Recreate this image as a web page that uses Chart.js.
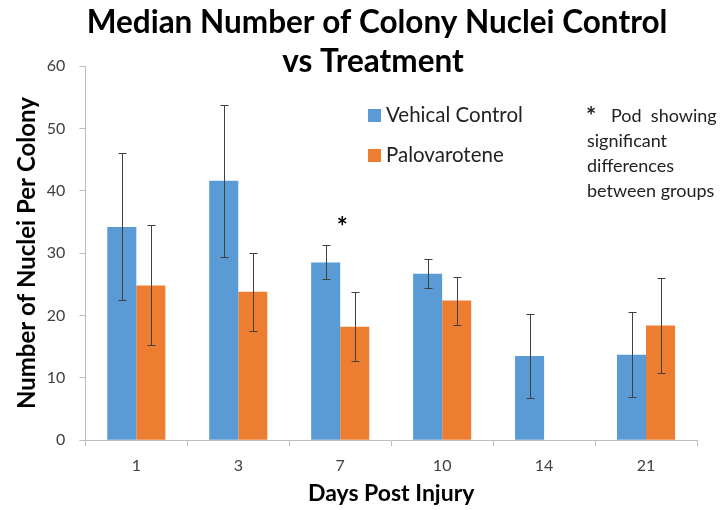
<!DOCTYPE html>
<html>
<head>
<meta charset="utf-8">
<script src="https://cdn.jsdelivr.net/npm/chart.js@4.4.0/dist/chart.umd.min.js"></script>
<style>
  html, body { margin: 0; padding: 0; background: #fff; }
  #wrap { width: 722px; height: 510px; }
</style>
</head>
<body>
<div id="wrap"><canvas id="chart" width="722" height="510"></canvas></div>
<script>
const days = ['1', '3', '7', '10', '14', '21'];
const controlMedian = [34.2, 41.6, 28.5, 26.7, 13.5, 13.7];
const controlLow = [22.5, 29.4, 25.9, 24.4, 6.8, 7.0];
const controlHigh = [46.1, 53.7, 31.3, 29.0, 20.3, 20.6];
const paloMedian = [24.8, 23.8, 18.2, 22.4, null, 18.4];
const paloLow = [15.3, 17.5, 12.7, 18.5, null, 10.7];
const paloHigh = [34.5, 30.0, 23.7, 26.2, null, 26.0];
const yTicks = [0, 10, 20, 30, 40, 50, 60];
const significantDay = '7';
const significantLevel = 35;

const font = 'Lato, "Open Sans", sans-serif';

const errorBars = {
  id: 'errorBars',
  afterDatasetsDraw(chart) {
    const ctx = chart.ctx;
    const y = chart.scales.y;
    const ranges = [[controlLow, controlHigh], [paloLow, paloHigh]];
    ctx.save();
    ctx.strokeStyle = '#404040';
    ctx.lineWidth = 1;
    ranges.forEach(([lo, hi], i) => {
      chart.getDatasetMeta(i).data.forEach((bar, j) => {
        if (lo[j] == null) return;
        const x = Math.round(bar.x) + 0.5;
        const y1 = Math.round(y.getPixelForValue(lo[j])) + 0.5;
        const y2 = Math.round(y.getPixelForValue(hi[j])) + 0.5;
        ctx.beginPath();
        ctx.moveTo(x, y1); ctx.lineTo(x, y2);
        ctx.moveTo(x - 4, y1); ctx.lineTo(x + 4, y1);
        ctx.moveTo(x - 4, y2); ctx.lineTo(x + 4, y2);
        ctx.stroke();
      });
    });
    // significance star
    const xs = chart.scales.x;
    ctx.fillStyle = '#000';
    ctx.font = 'bold 26px ' + font;
    ctx.textAlign = 'center';
    ctx.textBaseline = 'middle';
    ctx.fillText('*', xs.getPixelForValue(days.indexOf(significantDay)) + 2, y.getPixelForValue(significantLevel) + 6);
    ctx.restore();
  },
  afterDraw(chart) {
    const ctx = chart.ctx;
    ctx.save();
    // title
    ctx.fillStyle = '#000';
    ctx.textAlign = 'center';
    ctx.textBaseline = 'middle';
    ctx.font = 'bold 31.5px ' + font;
    ctx.fillText('Median Number of Colony Nuclei Control', 377, 23);
    ctx.fillText('vs Treatment', 373, 62);
    // legend
    ctx.textAlign = 'left';
    ctx.font = '20.5px ' + font;
    chart.data.datasets.forEach((ds, i) => {
      const ly = 115.5 + i * 40;
      ctx.fillStyle = ds.backgroundColor;
      ctx.fillRect(368, ly - 6.5, 13, 13);
      ctx.fillStyle = '#222';
      ctx.fillText(ds.label, 386, ly);
    });
    // note
    ctx.fillStyle = '#222';
    ctx.font = 'bold 24px ' + font;
    ctx.fillText('*', 586, 117);
    ctx.font = '18px ' + font;
    ctx.fillText('Pod  showing', 611, 116);
    ctx.fillText('significant', 587, 141);
    ctx.fillText('differences', 587, 166);
    ctx.fillText('between groups', 587, 191);
    ctx.restore();
  }
};

new Chart(document.getElementById('chart'), {
  type: 'bar',
  data: {
    labels: days,
    datasets: [
      { label: 'Vehical Control', data: controlMedian, backgroundColor: '#5b9bd5' },
      { label: 'Palovarotene', data: paloMedian, backgroundColor: '#ed7d31' }
    ]
  },
  options: {
    responsive: false,
    animation: false,
    devicePixelRatio: 1,
    layout: { padding: { top: 66, right: 25, left: 9, bottom: 3 } },
    categoryPercentage: 0.57,
    barPercentage: 1,
    plugins: {
      legend: { display: false },
      title: { display: false },
      tooltip: { enabled: false }
    },
    scales: {
      x: {
        grid: { display: true, drawOnChartArea: false, offset: true, color: '#bfbfbf', tickLength: 6 },
        border: { color: '#bfbfbf' },
        ticks: { color: '#404040', font: { family: font, size: 16 }, padding: 10 },
        title: { display: true, text: 'Days Post Injury', color: '#000', font: { family: font, size: 23, weight: 'bold' }, padding: { top: -6, bottom: 0 } }
      },
      y: {
        min: 0, max: 60,
        afterBuildTicks(scale) { scale.ticks = yTicks.map(v => ({ value: v })); },
        grid: { display: true, drawOnChartArea: false, color: '#bfbfbf', tickLength: 6 },
        border: { color: '#bfbfbf' },
        ticks: { color: '#404040', font: { family: font, size: 16 }, padding: 14 },
        title: { display: true, text: 'Number of Nuclei Per Colony', color: '#000', font: { family: font, size: 24, weight: 'bold' }, padding: { top: 4, bottom: -9 } }
      }
    }
  },
  plugins: [errorBars]
});
</script>
</body>
</html>
